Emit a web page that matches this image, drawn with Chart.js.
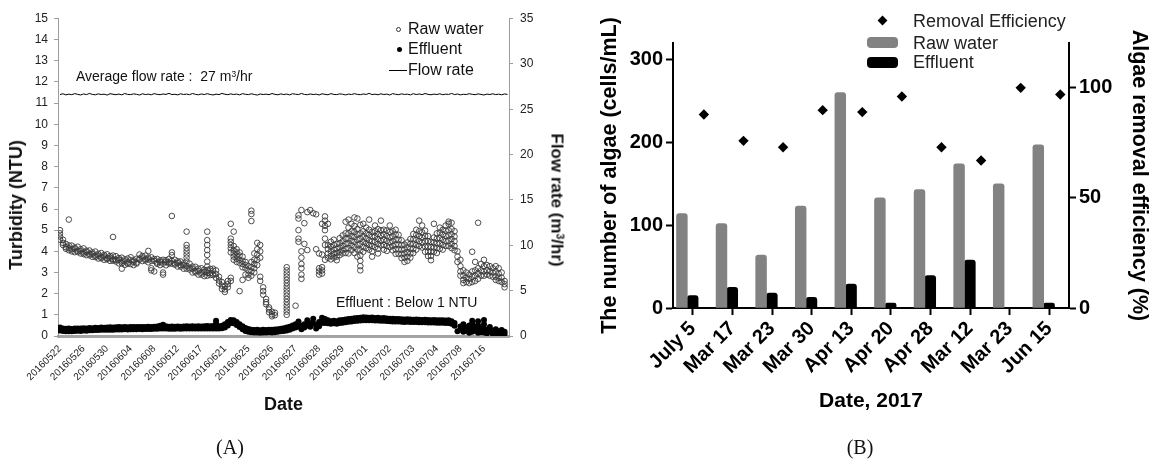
<!DOCTYPE html>
<html lang="en">
<head>
<meta charset="utf-8">
<title>Turbidity and algae removal</title>
<script src="https://cdn.jsdelivr.net/npm/chart.js@4.4.1/dist/chart.umd.min.js"></script>
<style>
  html, body { margin: 0; padding: 0; background: #ffffff; }
  body {
    position: relative;
    width: 1152px;
    height: 459px;
    overflow: hidden;
    font-family: "Liberation Sans", Arial, sans-serif;
    color: #111;
  }
  canvas { position: absolute; top: 0; }
  #chart-a { left: 0; }
  #chart-b { left: 580px; }

  .note { position: absolute; white-space: nowrap; line-height: 20px; }
  .vtitle {
    position: absolute;
    white-space: nowrap;
    font-weight: bold;
    line-height: 1;
  }
  .up   { transform: translate(-50%, -50%) rotate(-90deg); }
  .down { transform: translate(-50%, -50%) rotate(90deg); }
  .sup { font-size: 0.6em; vertical-align: 0.5em; line-height: 0; }
  .panel-tag {
    position: absolute;
    font-family: "Liberation Serif", "Times New Roman", serif;
    font-size: 20px;
    line-height: 20px;
    transform: translateX(-50%);
  }
  .mark { position: absolute; box-sizing: border-box; }
</style>
</head>
<body>

<canvas id="chart-a" width="580" height="459"></canvas>
<canvas id="chart-b" width="572" height="459"></canvas>

<!-- panel A: titles, notes, legend -->
<div class="vtitle up" style="left:16px; top:205px; font-size:18px;">Turbidity (NTU)</div>
<div class="vtitle down" style="left:557px; top:200px; font-size:17px;">Flow rate (m<span class="sup">3</span>/hr)</div>

<div class="note" style="left:76px; top:66px; font-size:14px;">Average flow rate :&nbsp; 27 m<span class="sup">3</span>/hr</div>
<div class="note" style="left:336px; top:292px; font-size:14px;">Effluent : Below 1 NTU</div>

<div class="mark" style="left:396px; top:26.5px; width:5px; height:5px; border:1px solid #333; border-radius:50%;"></div>
<div class="note" style="left:408px; top:19px; font-size:16px;">Raw water</div>
<div class="mark" style="left:396.5px; top:47px; width:5px; height:5px; background:#000; border-radius:50%;"></div>
<div class="note" style="left:408px; top:39px; font-size:16px;">Effluent</div>
<div class="mark" style="left:389px; top:69.5px; width:18px; height:1px; background:#000;"></div>
<div class="note" style="left:408px; top:60px; font-size:16px;">Flow rate</div>

<!-- panel B: legend -->
<div class="mark" style="left:879px; top:17px; width:7px; height:7px; background:#000; transform:rotate(45deg);"></div>
<div class="note" style="left:913px; top:10.5px; font-size:18px; color:#222;">Removal Efficiency</div>
<div class="mark" style="left:867px; top:37px; width:31px; height:11px; background:#828282; border-radius:4px;"></div>
<div class="note" style="left:913px; top:32.5px; font-size:18px; color:#222;">Raw water</div>
<div class="mark" style="left:867px; top:56.5px; width:31px; height:11.5px; background:#000; border-radius:4px;"></div>
<div class="note" style="left:913px; top:52px; font-size:18px; color:#222;">Effluent</div>

<div class="panel-tag" style="left:230px; top:437px;">(A)</div>
<div class="panel-tag" style="left:860px; top:437px;">(B)</div>

<script>
'use strict';

/*-------- DATA: panel A (turbidity, 2016) --------*/

const dateLabelsA = [
  '20160522', '20160526', '20160530', '20160604', '20160608', '20160612',
  '20160617', '20160621', '20160625', '20160626', '20160627', '20160628',
  '20160629', '20160701', '20160702', '20160703', '20160704', '20160708',
  '20160716'
];

// one sampling column per entry, 8 columns between date labels; NTU
const rawTurbidity = [
  [5.0, 4.85, 4.7, 4.55], [4.55, 4.4, 4.3], [4.35, 4.2, 4.12], [5.5, 4.28, 4.15, 4.05], [4.27, 4.1, 4.0],
  [4.18, 4.12, 3.96], [4.22, 4.03, 3.97], [4.1, 4.02, 3.9], [4.14, 3.95, 3.87], [4.03, 3.96, 3.82],
  [4.04, 3.88, 3.81], [3.95, 3.88, 3.74], [3.99, 3.8, 3.73], [3.88, 3.8, 3.66], [3.92, 3.74, 3.67],
  [3.83, 3.76, 3.6], [3.86, 3.68, 3.62], [3.78, 3.7, 3.55], [4.68, 3.8, 3.63, 3.56], [3.77, 3.6, 3.52],
  [3.68, 3.6, 3.43], [3.7, 3.52, 3.44, 3.18], [3.62, 3.53, 3.36], [3.66, 3.47, 3.41], [3.72, 3.58, 3.4],
  [3.57, 3.5, 3.35], [3.65, 3.47, 3.42], [3.85, 3.66, 3.6], [3.78, 3.71, 3.54], [3.8, 3.63, 3.57],
  [4.02, 3.7, 3.62, 3.48], [3.72, 3.55, 3.2, 3.1], [3.63, 3.55, 3.05], [3.64, 3.47, 3.41], [3.57, 3.5, 3.35],
  [3.6, 3.42, 3.0, 2.9], [3.58, 3.5, 3.34], [3.64, 3.47, 3.42], [5.67, 3.95, 3.82, 3.55, 3.42], [3.6, 3.43, 3.37],
  [3.53, 3.45, 3.28], [3.52, 3.35, 3.28], [3.43, 3.35, 3.18], [4.93, 4.3, 4.15, 4.0, 3.85, 3.7, 3.52, 3.3, 3.18], [3.42, 3.22, 3.14],
  [3.28, 3.18, 3.0], [3.27, 3.07, 3.0], [3.18, 3.08, 2.9], [3.2, 2.99, 2.9], [3.13, 3.03, 2.83],
  [4.93, 4.53, 4.3, 4.06, 3.83, 3.52, 3.28, 3.12, 2.98, 2.85], [3.17, 2.97, 2.88], [3.18, 3.08, 2.88], [3.1, 2.92, 2.75], [2.8, 2.62, 2.48],
  [2.55, 2.38, 2.22], [2.35, 2.2, 2.08], [2.6, 2.45, 2.3], [5.3, 4.6, 4.45, 4.3, 4.15, 3.95, 2.75, 2.6], [4.93, 4.25, 4.05, 3.9, 3.75, 3.6],
  [4.1, 3.95, 3.8, 3.65, 3.5], [3.95, 3.8, 3.6, 3.45, 2.12], [3.75, 3.55, 3.4, 3.25, 2.65], [3.5, 3.35, 3.2, 2.9], [3.3, 3.1, 2.9, 2.75],
  [5.92, 5.76, 5.43, 3.5, 3.25, 3.05, 2.85], [3.9, 3.6, 3.4, 3.2, 3.0], [4.4, 4.1, 3.85, 3.6, 3.35], [4.3, 4.0, 3.7, 2.8, 2.6], [2.3, 2.12, 1.95],
  [1.75, 1.6, 1.5], [1.35, 1.25, 1.12], [1.15, 1.02, 0.93], [1.1, 0.98], [],
  [], [], [3.25, 3.1, 2.95, 2.8, 2.65, 2.5, 2.35, 2.2, 2.05, 1.9, 1.75, 1.6, 1.45, 1.3, 1.15, 1.0], [], [],
  [1.43], [5.7, 5.55, 5.0, 4.6, 4.45], [5.95, 4.0, 3.7, 3.4, 3.2, 2.9, 2.7], [5.33, 4.35], [5.85, 4.06],
  [5.95], [5.8], [5.75, 4.1], [3.9, 3.2, 3.05, 2.9], [5.3, 3.85, 3.25, 3.1, 2.95],
  [5.65, 5.45, 5.2, 5.0, 4.6, 4.3, 3.6], [5.3, 4.3, 4.1, 3.9, 3.7], [4.45, 4.22, 4.0, 3.78, 3.62], [4.55, 4.3, 4.08, 3.88, 3.7], [4.35, 4.12, 3.93, 3.75, 3.58],
  [4.62, 4.38, 4.18, 3.98, 3.82], [4.75, 4.48, 4.26, 4.05, 3.9], [5.4, 4.85, 4.6, 4.35, 4.12, 3.92], [5.5, 5.12, 4.85, 4.6, 4.38, 4.15, 3.9], [5.3, 4.95, 4.72, 4.5, 4.28, 4.05],
  [5.6, 5.2, 4.92, 4.68, 4.45, 4.2, 3.92], [5.55, 5.05, 4.8, 4.55, 4.32, 4.08, 3.75], [5.25, 4.85, 4.6, 4.35, 4.05, 3.8, 3.55, 3.3, 3.1], [5.3, 4.95, 4.7, 4.45, 4.22, 3.98], [5.12, 4.85, 4.6, 4.38, 4.15],
  [5.5, 5.02, 4.78, 4.52, 4.3, 4.08], [4.92, 4.7, 4.48, 4.25, 4.0, 3.75], [5.22, 4.95, 4.7, 4.45, 4.2], [5.05, 4.82, 4.58, 4.35, 4.12, 3.9], [5.45, 5.0, 4.75, 4.5, 4.28],
  [5.02, 4.8, 4.55, 4.3, 4.08], [4.98, 4.72, 4.5, 4.25, 4.02], [5.22, 4.92, 4.66, 4.42, 4.2], [4.95, 4.7, 4.48, 4.26, 4.05], [5.02, 4.8, 4.55, 4.32, 4.1, 3.88],
  [4.78, 4.55, 4.32, 4.1, 3.88], [4.52, 4.3, 4.08, 3.86, 3.68], [4.32, 4.1, 3.9, 3.7, 3.5], [4.42, 4.18, 3.96, 3.75, 3.55], [4.58, 4.35, 4.12, 3.9, 3.7],
  [4.82, 4.58, 4.35, 4.12, 3.92], [5.02, 4.78, 4.55, 4.3, 4.08], [5.45, 4.95, 4.72, 4.48, 4.25], [5.22, 4.9, 4.65, 4.42, 4.18], [4.98, 4.72, 4.48, 4.22, 3.98],
  [4.72, 4.48, 4.22, 3.98, 3.78], [4.45, 4.2, 3.98, 3.78, 3.58], [5.3, 4.65, 4.42, 4.18, 3.98], [4.85, 4.6, 4.38, 4.15, 3.92], [5.12, 4.88, 4.62, 4.38, 4.12],
  [5.02, 4.8, 4.55, 4.3, 4.08], [5.22, 4.98, 4.72, 4.48, 4.25], [5.4, 5.3, 5.0, 4.75, 4.5, 4.25], [5.35, 5.05, 4.8, 4.58, 4.35, 4.15], [4.95, 4.7, 4.48, 4.25, 4.05],
  [4.0, 3.75, 3.5], [3.6, 3.3, 3.05, 2.85], [3.1, 2.85, 2.65, 2.5], [3.0, 2.75, 2.55], [2.9, 2.7, 2.5],
  [3.98, 3.05, 2.8, 2.55], [3.5, 3.1, 2.85, 2.6], [5.35, 3.2, 2.95, 2.7], [3.4, 3.1, 2.85], [3.6, 3.3, 3.05, 2.85],
  [3.35, 3.1, 2.9], [3.3, 3.05, 2.85], [3.2, 3.0, 2.8], [3.3, 3.05, 2.8, 2.65], [3.2, 2.95, 2.75, 2.6],
  [3.0, 2.75, 2.55], [2.6, 2.45, 2.3]
];

const effluentTurbidity = [
  [0.4, 0.26], [0.36, 0.24], [0.34, 0.22], [0.35, 0.23], [0.33, 0.22],
  [0.35, 0.24], [0.36, 0.25], [0.35, 0.24], [0.37, 0.26], [0.36, 0.25],
  [0.38, 0.27], [0.37, 0.27], [0.39, 0.28], [0.38, 0.28], [0.4, 0.29],
  [0.39, 0.29], [0.4, 0.3], [0.41, 0.3], [0.4, 0.3], [0.41, 0.31],
  [0.42, 0.31], [0.41, 0.31], [0.42, 0.32], [0.41, 0.31], [0.42, 0.32],
  [0.43, 0.32], [0.42, 0.32], [0.43, 0.33], [0.42, 0.32], [0.43, 0.33],
  [0.44, 0.33], [0.43, 0.33], [0.44, 0.34], [0.45, 0.34], [0.48, 0.35],
  [0.53, 0.36], [0.46, 0.35], [0.44, 0.34], [0.45, 0.34], [0.44, 0.34],
  [0.45, 0.35], [0.44, 0.34], [0.45, 0.35], [0.46, 0.35], [0.45, 0.35],
  [0.46, 0.35], [0.45, 0.35], [0.46, 0.36], [0.45, 0.35], [0.46, 0.36],
  [0.47, 0.36], [0.46, 0.36], [0.47, 0.36], [0.72, 0.58, 0.45, 0.35], [0.46, 0.36],
  [0.48, 0.37], [0.55, 0.4], [0.66, 0.5], [0.76, 0.62], [0.74, 0.6],
  [0.66, 0.52], [0.56, 0.42], [0.46, 0.32], [0.38, 0.24], [0.33, 0.2],
  [0.3, 0.18], [0.28, 0.16], [0.3, 0.17], [0.27, 0.15], [0.29, 0.17],
  [0.28, 0.16], [0.3, 0.18], [0.29, 0.17], [0.31, 0.18], [0.32, 0.2],
  [0.34, 0.22], [0.37, 0.24], [0.4, 0.26], [0.44, 0.3], [0.5, 0.35],
  [0.56, 0.4], [0.68, 0.45], [0.48, 0.32], [0.56, 0.4], [0.74, 0.5],
  [0.6, 0.44], [0.82, 0.6], [0.52, 0.36], [0.66, 0.46], [0.86, 0.62],
  [0.8, 0.62], [0.74, 0.6], [0.7, 0.58], [0.72, 0.6], [0.7, 0.58],
  [0.74, 0.62], [0.76, 0.63], [0.78, 0.65], [0.8, 0.67], [0.82, 0.69],
  [0.84, 0.71], [0.85, 0.72], [0.86, 0.73], [0.88, 0.75], [0.87, 0.74],
  [0.86, 0.74], [0.87, 0.74], [0.85, 0.73], [0.86, 0.73], [0.84, 0.72],
  [0.85, 0.72], [0.83, 0.71], [0.82, 0.7], [0.81, 0.69], [0.8, 0.68],
  [0.8, 0.68], [0.79, 0.67], [0.78, 0.66], [0.79, 0.67], [0.78, 0.66],
  [0.77, 0.66], [0.78, 0.66], [0.77, 0.65], [0.76, 0.65], [0.77, 0.65],
  [0.76, 0.64], [0.75, 0.64], [0.76, 0.64], [0.75, 0.63], [0.74, 0.63],
  [0.75, 0.63], [0.73, 0.62], [0.74, 0.62], [0.7, 0.58], [0.62, 0.48],
  [0.22], [0.45, 0.3], [0.55, 0.36, 0.2], [0.4, 0.25], [0.5, 0.3, 0.15],
  [0.72, 0.55, 0.36, 0.2], [0.45, 0.25], [0.7, 0.5, 0.3, 0.15], [0.35, 0.18], [0.76, 0.56, 0.36, 0.16],
  [0.3, 0.12], [0.42, 0.2], [0.25, 0.1], [0.32, 0.12], [0.22, 0.1],
  [0.28, 0.12], [0.2, 0.1]
];

// m3/hr, same columns
const flowRate = [
  26.62, 26.70, 26.58, 26.66, 26.60, 26.72, 26.64, 26.57, 26.68, 26.61,
  26.74, 26.63, 26.59, 26.69, 26.62, 26.66, 26.56, 26.71, 26.65, 26.60,
  26.67, 26.58, 26.73, 26.63, 26.61, 26.69, 26.64, 26.57, 26.70, 26.62,
  26.66, 26.59, 26.72, 26.64, 26.60, 26.68, 26.63, 26.75, 26.61, 26.65,
  26.58, 26.70, 26.62, 26.67, 26.60, 26.73, 26.64, 26.59, 26.68, 26.62,
  26.71, 26.63, 26.57, 26.66, 26.61, 26.74, 26.65, 26.60, 26.69, 26.62,
  26.67, 26.58, 26.72, 26.64, 26.61, 26.70, 26.63, 26.56, 26.68, 26.62,
  26.66, 26.60, 26.73, 26.64, 26.59, 26.69, 26.62, 26.67, 26.58, 26.71,
  26.65, 26.61, 26.74, 26.63, 26.60, 26.68, 26.62, 26.66, 26.57, 26.70,
  26.64, 26.59, 26.72, 26.63, 26.61, 26.69, 26.65, 26.58, 26.67, 26.62,
  26.71, 26.64, 26.60, 26.68, 26.63, 26.75, 26.61, 26.66, 26.59, 26.70,
  26.62, 26.67, 26.57, 26.72, 26.64, 26.60, 26.69, 26.63, 26.66, 26.58,
  26.71, 26.62, 26.68, 26.61, 26.73, 26.64, 26.59, 26.67, 26.62, 26.70,
  26.60, 26.66, 26.63, 26.74, 26.61, 26.68, 26.58, 26.65, 26.62, 26.71,
  26.64, 26.60, 26.69, 26.63, 26.57, 26.67, 26.62, 26.70, 26.61, 26.66,
  26.59, 26.68, 26.63
];


/*-------- DATA: panel B (algae, 2017) --------*/

const dates2017 = ['July 5', 'Mar 17', 'Mar 23', 'Mar 30', 'Apr 13', 'Apr 20', 'Apr 28', 'Mar 12', 'Mar 23', 'Jun 15'];
const algaeRaw = [114, 102, 64, 123, 260, 133, 143, 174, 150, 197];         // cells/mL
const algaeEffluent = [15, 25, 18, 13, 29, 6, 39, 58, 0, 6];                 // cells/mL
const removalEfficiency = [87.6, 75.7, 72.8, 89.6, 88.7, 95.8, 72.8, 66.8, 99.7, 96.7]; // %
const algaeTicks = [0, 100, 200, 300];
const efficiencyTicks = [0, 50, 100];


/*-------- helpers --------*/

const COLS_PER_LABEL = 8;

function columnsToPoints(columns) {
  const points = [];
  columns.forEach(function (values, col) {
    values.forEach(function (v) { points.push({ x: col, y: v }); });
  });
  return points;
}

Chart.defaults.font.family = '"Liberation Sans", Arial, sans-serif';
Chart.defaults.color = '#222';


/*-------- 1. PANEL A — turbidity scatter + flow line --------*/

const axisGrey = '#9c9c9c';

new Chart(document.getElementById('chart-a'), {
  type: 'scatter',
  data: {
    datasets: [
      {
        label: 'Effluent',
        data: columnsToPoints(effluentTurbidity),
        pointRadius: 3,
        pointBackgroundColor: '#000',
        pointBorderWidth: 0,
        yAxisID: 'y'
      },
      {
        label: 'Raw water',
        data: columnsToPoints(rawTurbidity),
        pointRadius: 2.8,
        pointBackgroundColor: 'rgba(0, 0, 0, 0)',
        pointBorderColor: '#3a3a3a',
        pointBorderWidth: 0.9,
        yAxisID: 'y'
      },
      {
        type: 'line',
        label: 'Flow rate',
        data: flowRate.map(function (v, i) { return { x: i, y: v }; }),
        borderColor: '#000',
        borderWidth: 1,
        pointRadius: 0,
        tension: 0,
        yAxisID: 'y2'
      }
    ]
  },
  options: {
    responsive: false,
    animation: false,
    events: [],
    layout: { padding: { left: 0, right: 0, top: 18.5, bottom: 0 } },
    plugins: { legend: { display: false }, tooltip: { enabled: false } },
    scales: {
      x: {
        type: 'linear',
        min: -0.68,
        max: 152.5,
        afterBuildTicks: function (axis) {
          axis.ticks = dateLabelsA.map(function (d, i) { return { value: i * COLS_PER_LABEL }; });
        },
        ticks: {
          autoSkip: false,
          minRotation: 45,
          maxRotation: 45,
          padding: 7,
          font: { size: 10 },
          color: '#222',
          callback: function (value, index) { return dateLabelsA[index]; }
        },
        grid: { display: false, drawTicks: false },
        border: { display: true, color: '#a3a3a3', width: 3 },
        title: {
          display: true,
          text: 'Date',
          font: { size: 18, weight: 'bold' },
          color: '#111',
          padding: { top: 0, bottom: 43 }
        },
        afterFit: function (scale) { scale.height = 123; }
      },
      y: {
        position: 'left',
        min: 0,
        max: 15,
        ticks: { stepSize: 1, padding: 6, font: { size: 12 }, color: '#222' },
        grid: { drawOnChartArea: false, tickLength: 4, color: axisGrey },
        border: { color: axisGrey, width: 1 },
        afterFit: function (scale) { scale.width = 58; }
      },
      y2: {
        position: 'right',
        min: 0,
        max: 35,
        ticks: { stepSize: 5, padding: 7, font: { size: 12 }, color: '#222' },
        grid: { drawOnChartArea: false, tickLength: 4, color: axisGrey },
        border: { color: axisGrey, width: 1 },
        afterFit: function (scale) { scale.width = 71; }
      }
    }
  }
});


/*-------- 2. PANEL B — algae bars + removal efficiency --------*/

// effluent bar sits on the tick, raw bar to its left, diamond to the right
const GROUP_SHIFT = 0.139;
const DIAMOND_SHIFT = 0.28;

const boldTick = { size: 20, weight: 'bold' };

new Chart(document.getElementById('chart-b'), {
  type: 'bar',
  data: {
    datasets: [
      {
        label: 'Raw water',
        data: algaeRaw.map(function (v, i) { return { x: i - GROUP_SHIFT, y: v }; }),
        backgroundColor: '#828282',
        barThickness: 10.8,
        borderRadius: { topLeft: 3, topRight: 3, bottomLeft: 0, bottomRight: 0 },
        borderSkipped: 'start',
        yAxisID: 'y'
      },
      {
        label: 'Effluent',
        data: algaeEffluent.map(function (v, i) { return { x: i - GROUP_SHIFT, y: v }; }),
        backgroundColor: '#000',
        barThickness: 10.8,
        borderRadius: { topLeft: 3, topRight: 3, bottomLeft: 0, bottomRight: 0 },
        borderSkipped: 'start',
        yAxisID: 'y'
      },
      {
        type: 'scatter',
        label: 'Removal Efficiency',
        data: removalEfficiency.map(function (v, i) { return { x: i + DIAMOND_SHIFT, y: v }; }),
        pointStyle: 'rectRot',
        pointRadius: 5.2,
        pointBackgroundColor: '#000',
        pointBorderWidth: 0,
        yAxisID: 'y2'
      }
    ]
  },
  options: {
    responsive: false,
    animation: false,
    events: [],
    layout: { padding: { left: 13, right: 0, top: 43, bottom: 0 } },
    plugins: { legend: { display: false }, tooltip: { enabled: false } },
    scales: {
      x: {
        type: 'linear',
        min: -0.5,
        max: 9.5,
        offset: false,
        afterBuildTicks: function (axis) {
          axis.ticks = dates2017.map(function (d, i) { return { value: i }; });
        },
        ticks: {
          autoSkip: false,
          minRotation: 45,
          maxRotation: 45,
          padding: 2,
          font: boldTick,
          color: '#000',
          callback: function (value, index) { return dates2017[index]; }
        },
        grid: { drawOnChartArea: false, offset: false, tickLength: 7, tickWidth: 2, tickColor: '#000' },
        border: { color: '#000', width: 2 },
        title: {
          display: true,
          text: 'Date, 2017',
          font: { size: 21, weight: 'bold' },
          color: '#000',
          padding: { top: 0, bottom: 45 }
        },
        afterFit: function (scale) { scale.height = 151; }
      },
      y: {
        position: 'left',
        min: 0,
        max: 320,
        afterBuildTicks: function (axis) {
          axis.ticks = algaeTicks.map(function (v) { return { value: v }; });
        },
        ticks: { padding: 3, font: boldTick, color: '#000' },
        grid: { drawOnChartArea: false, tickLength: 7, tickWidth: 2, tickColor: '#000' },
        border: { color: '#000', width: 2 },
        title: {
          display: true,
          text: 'The number of algae (cells/mL)',
          font: { size: 21.5, weight: 'bold' },
          color: '#000',
          padding: { top: 4, bottom: 0 }
        },
        afterFit: function (scale) { scale.width = 80; }
      },
      y2: {
        position: 'right',
        min: 0,
        max: 120,
        afterBuildTicks: function (axis) {
          axis.ticks = efficiencyTicks.map(function (v) { return { value: v }; });
        },
        ticks: { padding: 3, font: boldTick, color: '#000' },
        grid: { drawOnChartArea: false, tickLength: 7, tickWidth: 2, tickColor: '#000' },
        border: { color: '#000', width: 2 },
        title: {
          display: true,
          text: 'Algae removal efficiency (%)',
          font: { size: 21.5, weight: 'bold' },
          color: '#000',
          padding: { top: 0, bottom: 0 }
        },
        afterFit: function (scale) { scale.width = 83; }
      }
    }
  }
});
</script>
</body>
</html>
